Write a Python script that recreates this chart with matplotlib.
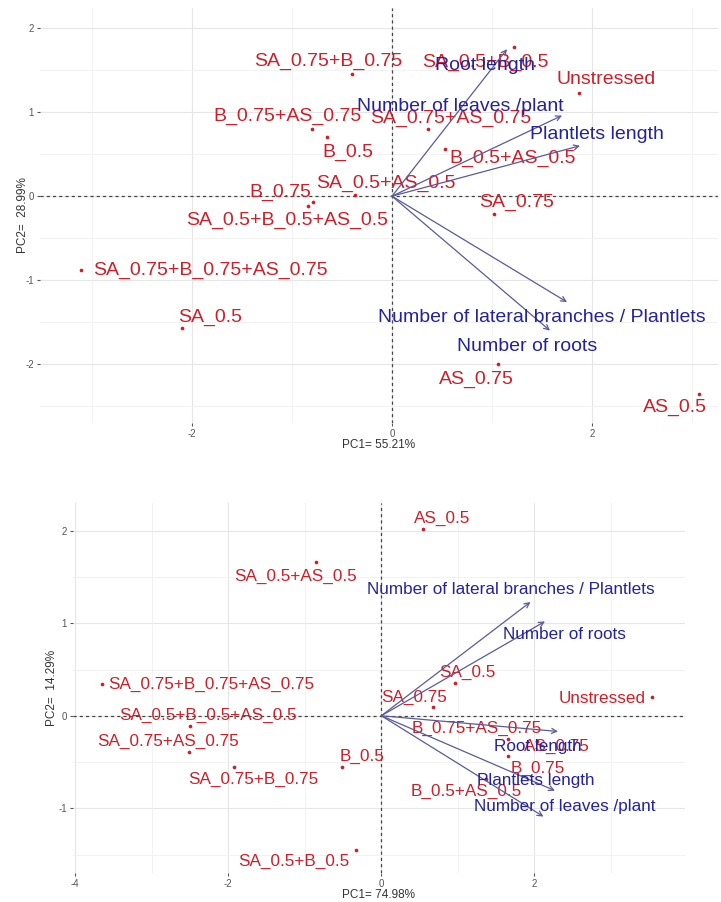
import matplotlib.pyplot as plt

plt.rcParams['font.family'] = ['Liberation Sans', 'DejaVu Sans']
plt.rcParams['axes.unicode_minus'] = False

# ---- top biplot: treatments (scores) ----
treat_top = ['SA_0.75+B_0.75', 'SA_0.5+B_0.5', 'Unstressed', 'B_0.75+AS_0.75', 'B_0.5',
             'SA_0.75+AS_0.75', 'B_0.5+AS_0.5', 'SA_0.5+AS_0.5', 'B_0.75', 'SA_0.5+B_0.5+AS_0.5',
             'SA_0.75', 'SA_0.75+B_0.75+AS_0.75', 'SA_0.5', 'AS_0.75', 'AS_0.5']
pc1_top = [-0.40, 1.22, 1.87, -0.80, -0.65, 0.36, 0.53, -0.37, -0.79, -0.84, 1.02, -3.11, -2.10, 1.06, 3.07]
pc2_top = [1.46, 1.77, 1.23, 0.80, 0.70, 0.80, 0.56, 0.01, -0.07, -0.12, -0.21, -0.88, -1.57, -2.00, -2.35]

# top biplot: traits (loadings)
traits_top = ['Root length', 'Number of leaves /plant', 'Plantlets length',
              'Number of lateral branches / Plantlets', 'Number of roots']
load1_top = [1.15, 1.70, 1.88, 1.75, 1.58]
load2_top = [1.75, 0.96, 0.60, -1.26, -1.60]

# ---- bottom biplot ----
treat_bot = ['AS_0.5', 'SA_0.5+AS_0.5', 'SA_0.75+B_0.75+AS_0.75', 'SA_0.5+B_0.5+AS_0.5',
             'SA_0.75+AS_0.75', 'SA_0.75+B_0.75', 'B_0.5', 'SA_0.5+B_0.5', 'SA_0.5', 'SA_0.75',
             'Unstressed', 'B_0.75+AS_0.75', 'AS_0.75', 'B_0.75', 'B_0.5+AS_0.5']
pc1_bot = [0.54, -0.85, -3.65, -2.50, -2.52, -1.93, -0.51, -0.33, 0.97, 0.68, 3.54, 1.66, 2.04, 1.65, 1.37]
pc2_bot = [2.02, 1.66, 0.34, -0.11, -0.39, -0.55, -0.55, -1.45, 0.35, 0.09, 0.20, -0.25, -0.27, -0.43, -0.68]

traits_bot = ['Number of lateral branches / Plantlets', 'Number of roots', 'Root length',
              'Plantlets length', 'Number of leaves /plant']
load1_bot = [1.95, 2.14, 2.31, 2.27, 2.12]
load2_bot = [1.23, 1.02, -0.17, -0.81, -1.09]

# label offsets in pixels (repelled label positions)
off_treat_top = [(-24, 12), (-29, -15), (27, 13), (-25, 13), (21, -15), (23, 11), (68, -9), (31, 12),
                 (-33, 10), (-21, -14), (23, 11), (129, 0), (28, 11), (-22, -15), (-24, -14)]
off_trait_top = [(-22, -16), (-102, 9), (17, 11), (-25, -15), (-23, -16)]
off_treat_bot = [(19, 10), (-21, -14), (109, 0), (18, 10), (-21, 10), (20, -13), (20, 10), (-62, -12),
                 (12, 11), (-19, 10), (-50, -1), (-32, 10), (19, -6), (30, -13), (-20, -13)]
off_trait_bot = [(-20, 12), (19, -13), (-20, -15), (-19, 10), (21, 10)]

RED = '#cc1f2a'
BLUE = '#23239c'
ARROW = '#5a5a9c'


def biplot(ax, x, y, names, offs, lx, ly, lnames, loffs, fs, xlab, ylab,
           xmaj, xmin, ymaj, ymin, xlim, ylim, ylabpad):
    ax.set_xlim(*xlim)
    ax.set_ylim(*ylim)
    ax.set_xticks(xmaj)
    ax.set_xticks(xmin, minor=True)
    ax.set_yticks(ymaj)
    ax.set_yticks(ymin, minor=True)
    ax.grid(which='major', color='#e6e6e6', lw=0.8)
    ax.grid(which='minor', color='#f0f0f0', lw=0.6)
    ax.set_axisbelow(True)
    for s in ax.spines.values():
        s.set_visible(False)
    ax.tick_params(which='major', length=2.5, color='#555555', labelsize=7, labelcolor='#555555', pad=2)
    ax.tick_params(which='minor', length=0)
    ax.axhline(0, color='#444444', ls=(0, (2.5, 2.5)), lw=0.9, zorder=1)
    ax.axvline(0, color='#444444', ls=(0, (2.5, 2.5)), lw=0.9, zorder=1)

    ax.scatter(x, y, s=7, color=RED, zorder=3, linewidths=0)
    for xi, yi, n, o in zip(x, y, names, offs):
        ax.annotate(n, (xi, yi), xytext=o, textcoords='offset pixels', ha='center', va='center',
                    fontsize=fs, color=RED, zorder=4)
    for xi, yi in zip(lx, ly):
        ax.annotate('', xy=(xi, yi), xytext=(0, 0),
                    arrowprops=dict(arrowstyle='->', color=ARROW, lw=0.9, shrinkA=0, shrinkB=0,
                                    mutation_scale=9), zorder=5)
    for xi, yi, n, o in zip(lx, ly, lnames, loffs):
        ax.annotate(n, (xi, yi), xytext=o, textcoords='offset pixels', ha='center', va='center',
                    fontsize=fs, color=BLUE, zorder=6)
    ax.set_xlabel(xlab, fontsize=8.5, color='#333333', labelpad=0)
    ax.set_ylabel(ylab, fontsize=8.5, color='#333333', labelpad=ylabpad)


fig = plt.figure(figsize=(7.21, 9.02), dpi=100)
ax1 = fig.add_axes([40 / 721, 1 - 423 / 902, 678 / 721, 415 / 902])
ax2 = fig.add_axes([73 / 721, 1 - 873 / 902, 612 / 721, 370 / 902])

biplot(ax1, pc1_top, pc2_top, treat_top, off_treat_top, load1_top, load2_top, traits_top, off_trait_top,
       14, 'PC1= 55.21%', 'PC2=  28.99%', [-2, 0, 2], [-3, -1, 1, 3], [-2, -1, 0, 1, 2],
       [-2.5, -1.5, -0.5, 0.5, 1.5], (-3.52, 3.26), (-2.70, 2.24), -3)
biplot(ax2, pc1_bot, pc2_bot, treat_bot, off_treat_bot, load1_bot, load2_bot, traits_bot, off_trait_bot,
       12.3, 'PC1= 74.98%', 'PC2=  14.29%', [-4, -2, 0, 2], [-3, -1, 1, 3], [-1, 0, 1, 2],
       [-1.5, -0.5, 0.5, 1.5], (-4.03, 3.97), (-1.70, 2.30), 0)

fig.savefig('out.png', dpi=100, facecolor='white')
